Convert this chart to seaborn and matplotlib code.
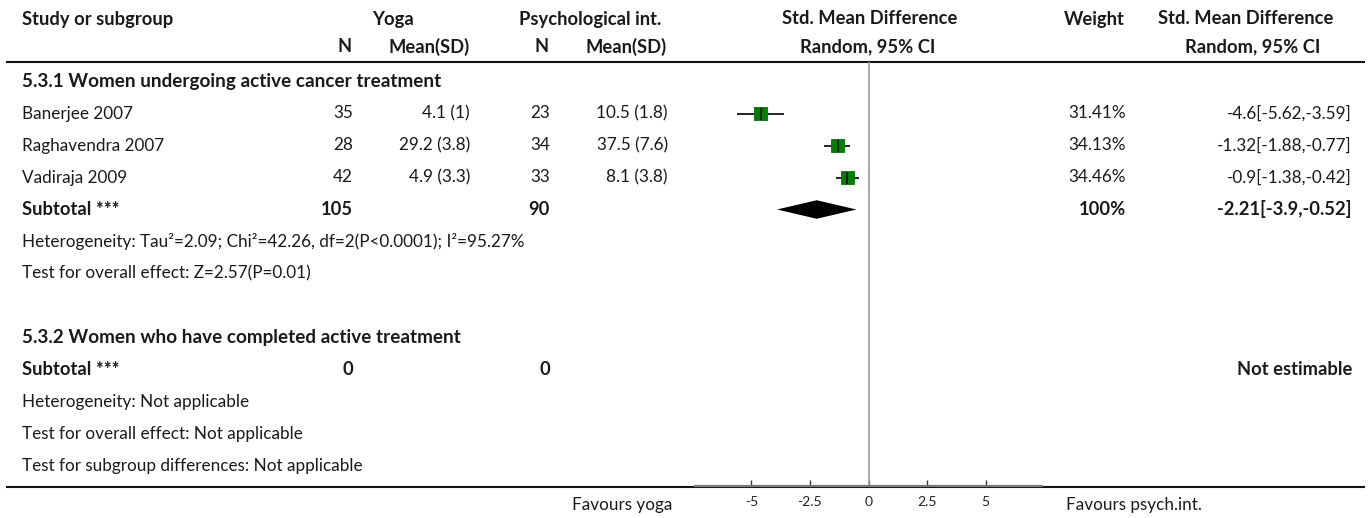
import matplotlib
matplotlib.use("Agg")
import matplotlib.pyplot as plt
import seaborn as sns

sns.set_theme(style="white")
plt.rcParams["font.family"] = ["Lato", "DejaVu Sans"]

# ---- data ----
studies = ["Banerjee 2007", "Raghavendra 2007", "Vadiraja 2009"]
yoga_n = [35, 28, 42]
yoga_mean = [4.1, 29.2, 4.9]
yoga_sd = [1, 3.8, 3.3]
psych_n = [23, 34, 33]
psych_mean = [10.5, 37.5, 8.1]
psych_sd = [1.8, 7.6, 3.8]
smd = [-4.6, -1.32, -0.9]
ci_low = [-5.62, -1.88, -1.38]
ci_high = [-3.59, -0.77, -0.42]
weights = [31.41, 34.13, 34.46]

pooled = -2.21
pooled_low = -3.9
pooled_high = -0.52
total_yoga_n = 105
total_psych_n = 90
total_weight = 100

group2_yoga_n = 0
group2_psych_n = 0

x_ticks = [-5, -2.5, 0, 2.5, 5]
tick_labels = ["-5", "-2.5", "0", "2.5", "5"]

# ---- layout (pixels on a 1370 x 518 canvas) ----
W, H = 1370, 518
ROW0, ROWH = 81.5, 32.0


def row_of(py):
    return (py - ROW0) / ROWH


fig = plt.figure(figsize=(W / 100, H / 100), dpi=100)

# table layer, x in pixels, y in row units
ax_t = fig.add_axes([0, 0, 1, 1])
ax_t.set_xlim(0, W)
ax_t.set_ylim(row_of(H), row_of(0))
ax_t.axis("off")

# forest plot layer
ax_l, ax_r = 695, 1042
top_py, bot_py = 62, 486
ax_f = fig.add_axes([ax_l / W, (H - bot_py) / H, (ax_r - ax_l) / W, (bot_py - top_py) / H])
ax_f.patch.set_alpha(0)
ax_f.set_xlim(-7.4, 7.4)
ax_f.set_ylim(row_of(bot_py), row_of(top_py))
for s in ["top", "left", "right"]:
    ax_f.spines[s].set_visible(False)
ax_f.spines["bottom"].set_color("#7a7a7a")
ax_f.spines["bottom"].set_linewidth(1.6)
ax_f.set_yticks([])
ax_f.set_xticks(x_ticks)
ax_f.set_xticklabels(tick_labels)
ax_f.tick_params(axis="x", direction="in", length=4, width=1, color="#333333",
                 labelsize=10, pad=7, labelcolor="#222222", bottom=True)

TXT = "#1a1a1a"
FS = 12.35
FSB = 13.2
FSS = 13.6

def txt(x, r, s, ha="left", bold=False, size=None):
    if size is None:
        size = FSB if bold else FS
    ax_t.text(x, r, s, ha=ha, va="center", fontsize=size, color=TXT,
              fontweight="bold" if bold else "normal")

# header
r1, r2 = row_of(19), row_of(47)
txt(22, r1, "Study or subgroup", bold=True)
txt(393, r1, "Yoga", ha="center", bold=True)
txt(590, r1, "Psychological int.", ha="center", bold=True)
txt(870, r1, "Std. Mean Difference", ha="center", bold=True)
txt(1125, r1, "Weight", ha="right", bold=True)
txt(1246, r1, "Std. Mean Difference", ha="center", bold=True)
txt(352, r2, "N", ha="right", bold=True)
txt(470, r2, "Mean(SD)", ha="right", bold=True)
txt(549, r2, "N", ha="right", bold=True)
txt(667, r2, "Mean(SD)", ha="right", bold=True)
txt(868, r2, "Random, 95% CI", ha="center", bold=True)
txt(1253, r2, "Random, 95% CI", ha="center", bold=True)

# rule lines
ax_t.hlines(row_of(62), 6, 1365, color="#111111", lw=1.5)
ax_t.hlines(row_of(487), 6, 1365, color="#111111", lw=1.5, zorder=0)

# subgroup 1
txt(22, 0, "5.3.1 Women undergoing active cancer treatment", bold=True, size=FSS)
rows = [1, 2, 3]
for r, name, yn, ym, ys, pn, pm, ps, w, m, lo, hi in zip(
        rows, studies, yoga_n, yoga_mean, yoga_sd, psych_n, psych_mean, psych_sd,
        weights, smd, ci_low, ci_high):
    txt(22, r, name)
    txt(353, r, f"{yn}", ha="right")
    txt(470, r, f"{ym:g} ({ys:g})", ha="right")
    txt(550, r, f"{pn}", ha="right")
    txt(668, r, f"{pm:g} ({ps:g})", ha="right")
    txt(1126, r, f"{w:.2f}%", ha="right")
    txt(1352, r, f"{m:g}[{lo:g},{hi:g}]", ha="right")

txt(22, 4, "Subtotal ***", bold=True)
txt(353, 4, f"{total_yoga_n}", ha="right", bold=True)
txt(550, 4, f"{total_psych_n}", ha="right", bold=True)
txt(1126, 4, f"{total_weight}%", ha="right", bold=True)
txt(1352, 4, f"{pooled:g}[{pooled_low:g},{pooled_high:g}]", ha="right", bold=True)
txt(22, 5, "Heterogeneity: Tau\u00b2=2.09; Chi\u00b2=42.26, df=2(P<0.0001); I\u00b2=95.27%")
txt(22, 6, "Test for overall effect: Z=2.57(P=0.01)")

# subgroup 2
txt(22, 8, "5.3.2 Women who have completed active treatment", bold=True, size=FSS)
txt(22, 9, "Subtotal ***", bold=True)
txt(353, 9, f"{group2_yoga_n}", ha="right", bold=True)
txt(550, 9, f"{group2_psych_n}", ha="right", bold=True)
txt(1352, 9, "Not estimable", ha="right", bold=True)
txt(22, 10, "Heterogeneity: Not applicable")
txt(22, 11, "Test for overall effect: Not applicable")
txt(22, 12, "Test for subgroup differences: Not applicable")

# footer labels
rf = row_of(505)
txt(672, rf, "Favours yoga", ha="right")
txt(1066, rf, "Favours psych.int.")

# ---- forest marks ----
ax_f.axvline(0, color="#9a9a9a", lw=1.2, zorder=1)
ax_f.hlines(rows, ci_low, ci_high, color="#111111", lw=1.3, zorder=2)
ax_f.scatter(smd, rows, marker="s", s=[w * 2.5 for w in weights],
             color="#008000", edgecolor="#0b6b0b", linewidth=0.6, zorder=3)
ax_f.scatter(smd, rows, marker="|", s=80, color="#111111", linewidth=1.3, zorder=4)

dh = 0.29
ax_f.fill([pooled_low, pooled, pooled_high, pooled],
          [4, 4 - dh, 4, 4 + dh], color="black", zorder=3, lw=0)

fig.savefig("out.png", dpi=100)
